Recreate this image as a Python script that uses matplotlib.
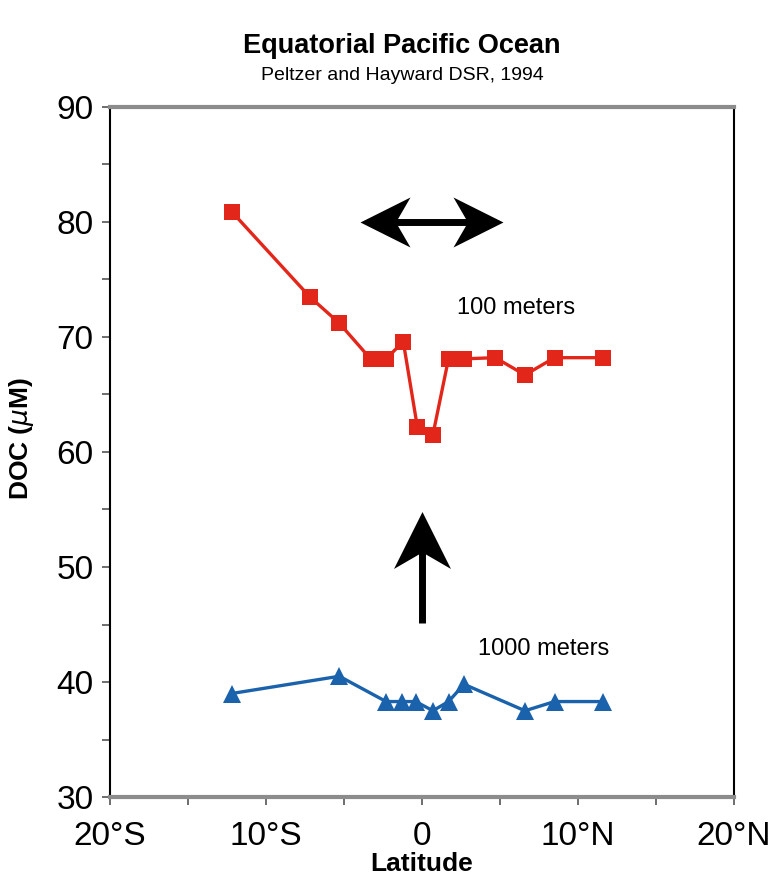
import matplotlib
matplotlib.use("Agg")
import matplotlib.pyplot as plt
from matplotlib.path import Path
from matplotlib.ticker import MultipleLocator

# ── Data ──────────────────────────────────────────────────────────────────────
lat_100m = [-12.2, -7.2, -5.3, -3.3, -2.3, -1.2, -0.3, 0.7, 1.7, 2.7, 4.7, 6.6, 8.5, 11.6]
doc_100m = [80.9, 73.5, 71.2, 68.1, 68.1, 69.6, 62.2, 61.5, 68.1, 68.1, 68.2, 66.7, 68.2, 68.2]

lat_1000m = [-12.2, -5.3, -2.3, -1.3, -0.4, 0.7, 1.7, 2.7, 6.6, 8.5, 11.6]
doc_1000m = [39.0, 40.5, 38.3, 38.3, 38.3, 37.5, 38.3, 39.8, 37.5, 38.3, 38.3]

xticks = [-20, -10, 0, 10, 20]
xticklabels = ["20°S", "10°S", "0", "10°N", "20°N"]
yticks = [30, 40, 50, 60, 70, 80, 90]

plt.rcParams["font.family"] = ["Liberation Sans", "DejaVu Sans"]


def head_marker(direction):
    """Barbed arrow-head marker pointing right/left/up."""
    pts = [(1, 0), (-1, 1), (-0.42, 0), (-1, -1), (1, 0)]
    if direction == "left":
        pts = [(-x, y) for x, y in pts]
    elif direction == "up":
        pts = [(y, x) for x, y in pts]
    codes = [Path.MOVETO, Path.LINETO, Path.LINETO, Path.LINETO, Path.CLOSEPOLY]
    return Path(pts, codes)


fig = plt.figure(figsize=(7.78, 8.84), dpi=100)
ax = fig.add_axes([0.1414, 0.0984, 0.802, 0.7806])

ax.plot(lat_100m, doc_100m, color="#e3261a", lw=2.4, marker="s", ms=12,
        markeredgewidth=0, zorder=3)
ax.plot(lat_1000m, doc_1000m, color="#1a62ab", lw=2.4, marker="^", ms=13,
        markeredgewidth=0, zorder=3)

ax.set_xlim(-20, 20)
ax.set_ylim(30, 90)
ax.set_xticks(xticks)
ax.set_xticklabels(xticklabels)
ax.set_yticks(yticks)
ax.xaxis.set_minor_locator(MultipleLocator(5))
ax.yaxis.set_minor_locator(MultipleLocator(5))
ax.tick_params(which="both", direction="out", length=6, width=1.2,
               color="#555555", labelsize=24)
ax.tick_params(axis="y", which="both", right=False, pad=6)
ax.tick_params(axis="x", which="both", top=False, pad=11)

for side in ("top", "bottom"):
    ax.spines[side].set_color("#8c8c8c")
    ax.spines[side].set_linewidth(3)
for side in ("left", "right"):
    ax.spines[side].set_color("black")
    ax.spines[side].set_linewidth(1.5)

ax.set_xlabel("Latitude", fontsize=19, fontweight="bold", labelpad=0)
ax.set_ylabel(r"DOC ($\mu$M)", fontsize=19, fontweight="bold")
ax.yaxis.set_label_coords(-0.118, 0.52)

# annotations
ax.text(6.0, 72.5, "100 meters", fontsize=17, ha="center", va="center")
ax.text(7.8, 42.9, "1000 meters", fontsize=17, ha="center", va="center")

# double-headed horizontal arrow
ax.plot([-2.4, 3.6], [80, 80], color="black", lw=5, solid_capstyle="butt", zorder=4)
ax.plot([-2.4], [80], marker=head_marker("left"), ms=36, color="black",
        markeredgewidth=0, zorder=5)
ax.plot([3.6], [80], marker=head_marker("right"), ms=36, color="black",
        markeredgewidth=0, zorder=5)

# vertical arrow
ax.plot([0, 0], [45.1, 52.4], color="black", lw=5, solid_capstyle="butt", zorder=4)
ax.plot([0], [52.35], marker=head_marker("up"), ms=41, color="black",
        markeredgewidth=0, zorder=5)

fig.text(0.517, 0.948, "Equatorial Pacific Ocean", fontsize=19.5,
         fontweight="bold", ha="center", va="center")
fig.text(0.517, 0.915, "Peltzer and Hayward DSR, 1994", fontsize=14,
         ha="center", va="center")

fig.savefig("out.png", dpi=100)
